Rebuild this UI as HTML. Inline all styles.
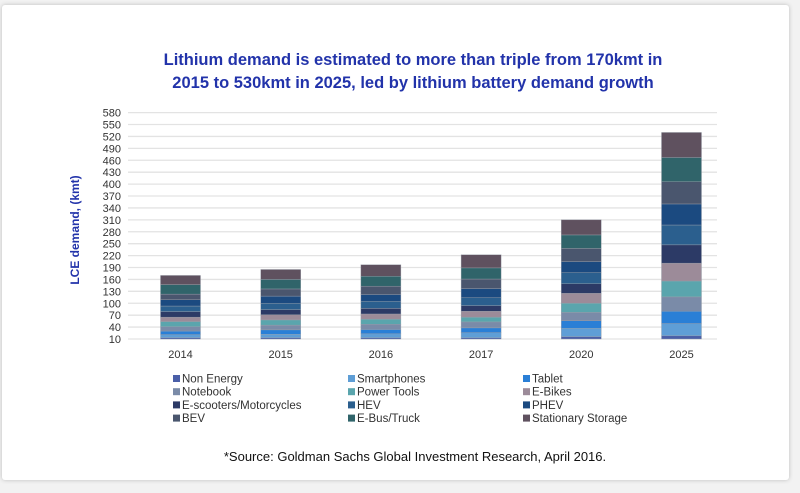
<!DOCTYPE html>
<html><head><meta charset="utf-8"><style>
body{margin:0;background:#f2f2f2;width:800px;height:493px;overflow:hidden;font-family:"Liberation Sans",sans-serif}
#card{position:absolute;left:2px;top:5px;width:787px;height:475px;background:#fff;box-shadow:0 0 4px #bbb;border-radius:3px}
</style></head><body>
<div id="card"></div>
<svg id="chart" width="800" height="493" style="position:absolute;left:0;top:0">
<text x="413" y="65" text-anchor="middle" font-family="Liberation Sans,sans-serif" font-weight="bold" font-size="16.5" fill="#2233aa">Lithium demand is estimated to more than triple from 170kmt in</text>
<text x="413" y="88" text-anchor="middle" font-family="Liberation Sans,sans-serif" font-weight="bold" font-size="16.5" fill="#2233aa">2015 to 530kmt in 2025, led by lithium battery demand growth</text>
<text transform="translate(79,230) rotate(-90)" text-anchor="middle" font-family="Liberation Sans,sans-serif" font-weight="bold" font-size="12" fill="#2233aa">LCE demand, (kmt)</text>
<g id="grid"></g><g id="bars"></g><g id="legend"></g>
<text x="415" y="461" text-anchor="middle" font-family="Liberation Sans,sans-serif" font-size="13" fill="#111">*Source: Goldman Sachs Global Investment Research, April 2016.</text>
</svg>
<script>
const categories=["2014","2015","2016","2017","2020","2025"];
const seriesNames=["Non Energy","Smartphones","Tablet","Notebook","Power Tools","E-Bikes","E-scooters/Motorcycles","HEV","PHEV","BEV","E-Bus/Truck","Stationary Storage"];
const seriesColors=["#4a5fa8","#5f9ed6","#2a7fd6","#7a8ba8","#5aa5ad","#9c8b99","#2c3a66","#2b5f8e","#1b4a80","#4a566e","#30646a","#5f515f"];
const nonEnergy=[3,3,3,3,6,8];
const smartphones=[8,9,10,13,21,31];
const tablet=[9,11,11,12,19,31];
const notebook=[11,12,13,15,21,36];
const powerTools=[13,13,13,12,23,40];
const eBikes=[11,13,13,15,25,45];
const eScooters=[14,13,14,14,24,46];
const hev=[14,16,18,20,28,50];
const phev=[16,18,17,23,28,53];
const bev=[14,18,21,24,33,56];
const eBus=[24,24,25,28,34,61];
const stationary=[23,25,29,33,38,63];
const yTicks=[10,40,70,100,130,160,190,220,250,280,310,340,370,400,430,460,490,520,550,580];
const series=[nonEnergy,smartphones,tablet,notebook,powerTools,eBikes,eScooters,hev,phev,bev,eBus,stationary];
const NS="http://www.w3.org/2000/svg";
const y=v=>339-(v-10)*(226.4/570);
const x=i=>180.5+i*100.2;
function mk(t,a,p){const e=document.createElementNS(NS,t);for(const k in a)e.setAttribute(k,a[k]);p.appendChild(e);return e;}
const grid=document.getElementById('grid');
yTicks.forEach(t=>{
  const l=mk('line',{x1:128,x2:717,y1:y(t),y2:y(t),stroke:'#e3e3e3','stroke-width':1.3},grid);
  
  
  const tx=mk('text',{x:121,y:y(t)+4,'text-anchor':'end','font-size':11,fill:'#333','font-family':'Liberation Sans,sans-serif'},grid);
  tx.textContent=t;
  
  
});
const bars=document.getElementById('bars');
categories.forEach((c,i)=>{
  let base=10;
  series.forEach((s,j)=>{
    const v=s[i];
    const r=mk('rect',{x:x(i)-20,y:y(base+v),width:40,height:y(base)-y(base+v),fill:seriesColors[j],stroke:'#9aa0aa','stroke-width':0.4},bars);
    
    
    base+=v;
  });
  const t=mk('text',{x:x(i),y:358,'text-anchor':'middle','font-size':11,fill:'#333','font-family':'Liberation Sans,sans-serif'},bars);
  t.textContent=c;
  
  
});
const lg=document.getElementById('legend');
seriesNames.forEach((n,j)=>{
  const col=j%3,row=Math.floor(j/3);
  const lx=[173,348,523][col],ly=379+row*13.2;
  const g=mk('g',{},lg);
  
  
  mk('rect',{x:lx,y:ly-4,width:7,height:7,fill:seriesColors[j]},g);
  const t=mk('text',{x:lx+9,y:ly+3.5,'font-size':11.5,fill:'#333','font-family':'Liberation Sans,sans-serif'},g);
  t.textContent=n;
});
</script>
</body></html>
